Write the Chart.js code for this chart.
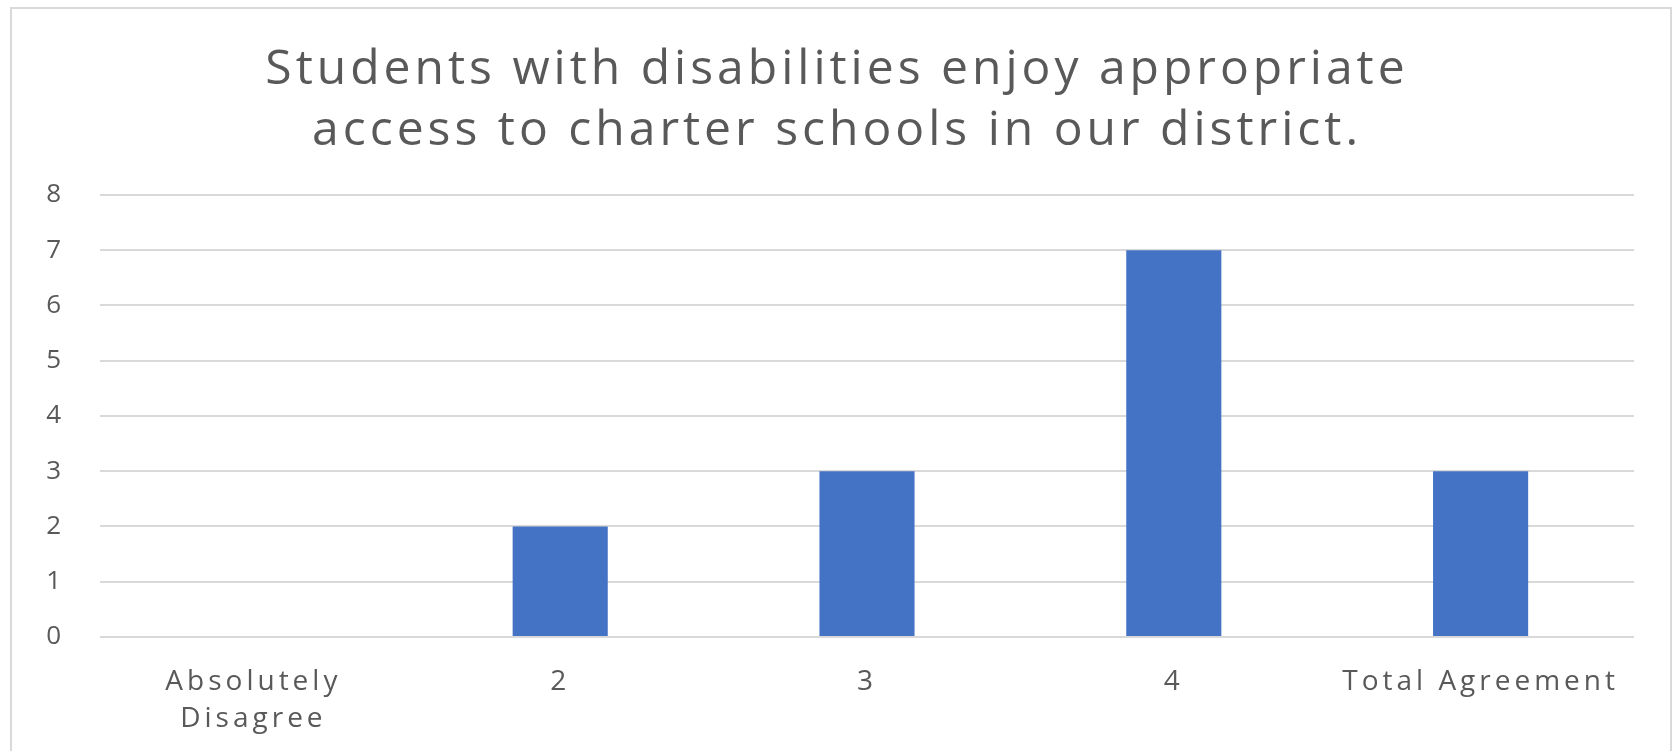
<!DOCTYPE html>
<html>
<head>
<meta charset="utf-8">
<script src="https://cdn.jsdelivr.net/npm/chart.js@4/dist/chart.umd.min.js"></script>
<style>
  html, body { margin: 0; padding: 0; background: #ffffff; overflow: hidden; }
  #frame { position: absolute; left: 10px; top: 7px; width: 1662px; height: 800px; border: 2px solid #d9d9d9; box-sizing: border-box; }
  #wrap { position: absolute; left: 0; top: 0; width: 1680px; height: 751px; }
</style>
</head>
<body>
<div id="frame"></div>
<div id="wrap"><canvas id="c"></canvas></div>
<script>
const titleLines = ["Students with disabilities enjoy appropriate", "access to charter schools in our district."];
const categories = [["Absolutely", "Disagree"], "2", "3", "4", "Total Agreement"];
const values = [0, 2, 3, 7, 3];
const yMin = 0, yMax = 8, yStep = 1;

const textColor = "#595959";
const gridColor = "#d9d9d9";
const barColor = "#4472c4";

const spacing = {
  id: "spacing",
  beforeDraw(chart) { chart.ctx.letterSpacing = "4px"; }
};

new Chart(document.getElementById("c"), {
  type: "bar",
  data: {
    labels: categories,
    datasets: [{ data: values, backgroundColor: barColor, barPercentage: 0.62, categoryPercentage: 0.5 }]
  },
  plugins: [spacing],
  options: {
    responsive: true,
    maintainAspectRatio: false,
    animation: false,
    layout: { padding: { left: 40, right: 46, top: 0, bottom: 0 } },
    plugins: {
      legend: { display: false },
      tooltip: { enabled: false },
      title: {
        display: true,
        text: titleLines,
        color: textColor,
        font: { family: "'Open Sans', sans-serif", size: 48, weight: "normal", lineHeight: 1.27 },
        padding: { top: 40, bottom: 33 }
      }
    },
    scales: {
      x: {
        grid: { display: false, drawTicks: false },
        border: { display: false },
        ticks: { color: textColor, padding: 26, maxRotation: 0, autoSkip: false,
          font: { family: "'Open Sans', sans-serif", size: 28, lineHeight: 1.33 } },
        afterFit: (s) => { s.height = 114; }
      },
      y: {
        min: yMin, max: yMax,
        ticks: { stepSize: yStep, color: textColor, padding: 35,
          font: { family: "'Open Sans', sans-serif", size: 26 } },
        grid: { color: gridColor, lineWidth: 2, drawTicks: false },
        border: { display: false },
        afterFit: (s) => { s.width = 60; }
      }
    }
  }
});
</script>
</body>
</html>
